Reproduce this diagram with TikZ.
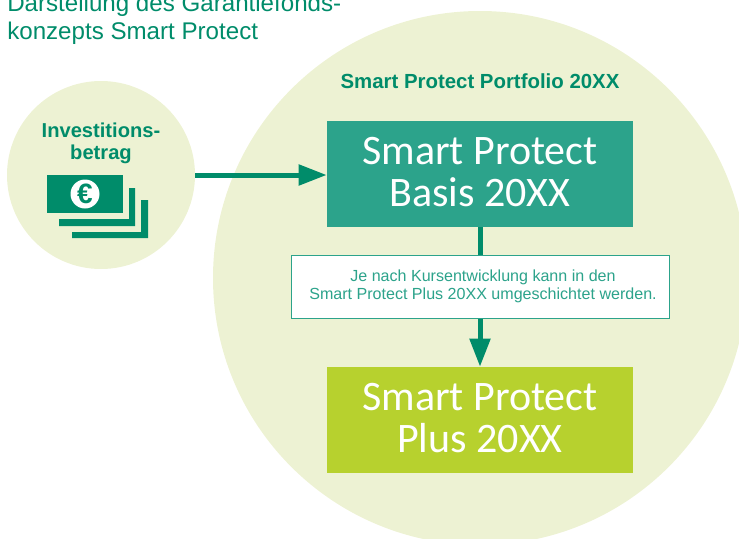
\documentclass[tikz,border=0pt]{standalone}
\usepackage{fontspec}
\setmainfont{Liberation Sans}
\newfontfamily\boxfont{Carlito}
\usetikzlibrary{arrows.meta}
\definecolor{palegreen}{HTML}{EDF2D3}
\definecolor{darkgreen}{HTML}{008C6A}
\definecolor{boxgreen}{HTML}{2CA38B}
\definecolor{limegreen}{HTML}{B7D12E}
\tikzset{
	bubble/.style={circle,fill=palegreen,inner sep=0pt},
	fundbox/.style={rectangle,minimum width=229.5pt,minimum height=79.5pt,inner sep=0pt},
	fundlabel/.style={inner sep=0pt,text=white,align=center,font=\boxfont\fontsize{31.5}{31.5}\selectfont},
	flow/.style={draw=darkgreen,line width=3.75pt,-{Triangle[length=21pt,width=15pt]}},
	billfill/.style={fill=darkgreen}
}
\begin{document}
\begin{tikzpicture}[x=0.75pt,y=-0.75pt]
	\useasboundingbox (0,0) rectangle (739,539);
	\node[bubble,minimum size=400.5pt] (portfolio) at (480,278) {};
	\node[bubble,minimum size=141pt] (invest) at (101,175) {};
	\node[anchor=north west,inner sep=0pt,align=left,text=darkgreen,font=\fontsize{18.1}{21}\selectfont] (title) at (7,-6) {Darstellung des Garantiefonds-\\konzepts Smart Protect};
	\node[text=darkgreen,inner sep=0pt,font=\bfseries\fontsize{15.3}{16}\selectfont] (portfoliolabel) at (480,81) {Smart Protect Portfolio 20XX};
	\node[text=darkgreen,inner sep=0pt,align=center,font=\bfseries\fontsize{15.1}{16.5}\selectfont] (investlabel) at (101,143) {Investitions-\\betrag};
	\node[fundbox,fill=boxgreen] (basis) at (480,174) {};
	\node[fundlabel] (basistext) at (480,172) {Smart Protect\\Basis 20XX};
	\node[fundbox,fill=limegreen] (plus) at (480,420) {};
	\node[fundlabel] (plustext) at (480,418) {Smart Protect\\Plus 20XX};
	\node[rectangle,draw=boxgreen,fill=white,line width=.75pt,minimum width=283.5pt,minimum height=47.25pt,inner sep=0pt,align=center,text=boxgreen,font=\fontsize{12.05}{13.5}\selectfont] (note) at (480,286.5) {\hspace*{4.5pt}Je nach Kursentwicklung kann in den\\\hspace*{4.5pt}Smart Protect Plus 20XX umgeschichtet werden.};
	\draw[draw=darkgreen,line width=3.75pt] (basis.south) -- (note.north);
	\draw[flow] (note.south) -- (plus.north);
	\draw[flow] (invest.east) -- (invest.east -| basis.west);
	\fill[billfill] (135,188) -- (135,226) -- (59,226) -- (59,219) -- (129,219) -- (129,188) -- cycle;
	\fill[billfill] (148,200) -- (148,238) -- (72,238) -- (72,232) -- (141,232) -- (141,200) -- cycle;
	\fill[billfill] (47,175) rectangle (123,213);
	\node[circle,fill=white,minimum size=21.75pt,inner sep=0pt,text=darkgreen,font=\bfseries\fontsize{21}{21}\selectfont] (coin) at (85,194) {€};
\end{tikzpicture}
\end{document}
